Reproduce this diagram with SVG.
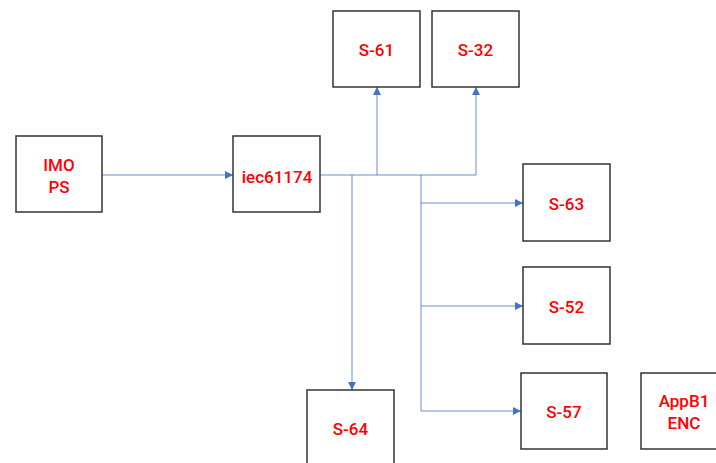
<svg xmlns="http://www.w3.org/2000/svg" width="716" height="463" viewBox="0 0 716 463">
  <style>
    .box { fill: #ffffff; stroke: #333333; stroke-width: 1.5; }
    .lbl { font-family: "Roboto", "Liberation Sans", sans-serif; font-weight: 500; font-size: 17px; fill: #ff0000; text-anchor: middle; }
    .wire { fill: none; stroke: #4472c4; stroke-width: 1; stroke-opacity: 0.8; }
  </style>
  <defs>
    <marker id="arrow" viewBox="0 0 10 10" refX="10" refY="5" markerWidth="8" markerHeight="8" markerUnits="userSpaceOnUse" orient="auto">
      <path d="M0,0 L10,5 L0,10 Z" fill="#4472c4"/>
    </marker>
  </defs>
  <rect width="716" height="463" fill="#ffffff"/>

  <!-- connectors -->
  <g id="connectors">
    <line class="wire" x1="102" y1="175" x2="233" y2="175" marker-end="url(#arrow)"/>
    <line class="wire" x1="320" y1="175" x2="476" y2="175"/>
    <line class="wire" x1="377" y1="175" x2="377" y2="87" marker-end="url(#arrow)"/>
    <line class="wire" x1="476" y1="175" x2="476" y2="87" marker-end="url(#arrow)"/>
    <line class="wire" x1="352" y1="175" x2="352" y2="390" marker-end="url(#arrow)"/>
    <polyline class="wire" points="421,175 421,411 521,411" marker-end="url(#arrow)"/>
    <line class="wire" x1="421" y1="203" x2="523" y2="203" marker-end="url(#arrow)"/>
    <line class="wire" x1="421" y1="306" x2="523" y2="306" marker-end="url(#arrow)"/>
  </g>

  <!-- nodes -->
  <g id="imo-ps">
    <rect class="box" x="16" y="136" width="86" height="76"/>
    <text class="lbl" x="59" y="171">IMO</text>
    <text class="lbl" x="59" y="193">PS</text>
  </g>
  <g id="iec61174">
    <rect class="box" x="233" y="136" width="87" height="76"/>
    <text class="lbl" x="277" y="183">iec61174</text>
  </g>
  <g id="s61">
    <rect class="box" x="333" y="11" width="87" height="76"/>
    <text class="lbl" x="376.5" y="56">S-61</text>
  </g>
  <g id="s32">
    <rect class="box" x="432" y="11" width="87" height="76"/>
    <text class="lbl" x="475.5" y="56">S-32</text>
  </g>
  <g id="s63">
    <rect class="box" x="523" y="164" width="87" height="77"/>
    <text class="lbl" x="566.5" y="210">S-63</text>
  </g>
  <g id="s52">
    <rect class="box" x="523" y="267" width="87" height="77"/>
    <text class="lbl" x="566.5" y="313">S-52</text>
  </g>
  <g id="s64">
    <rect class="box" x="307" y="390" width="87" height="77"/>
    <text class="lbl" x="350.5" y="435">S-64</text>
  </g>
  <g id="s57">
    <rect class="box" x="521" y="373" width="86" height="76"/>
    <text class="lbl" x="564" y="418">S-57</text>
  </g>
  <g id="appb1-enc">
    <rect class="box" x="641" y="373" width="86" height="76"/>
    <text class="lbl" x="684" y="407">AppB1</text>
    <text class="lbl" x="684" y="429">ENC</text>
  </g>
</svg>
